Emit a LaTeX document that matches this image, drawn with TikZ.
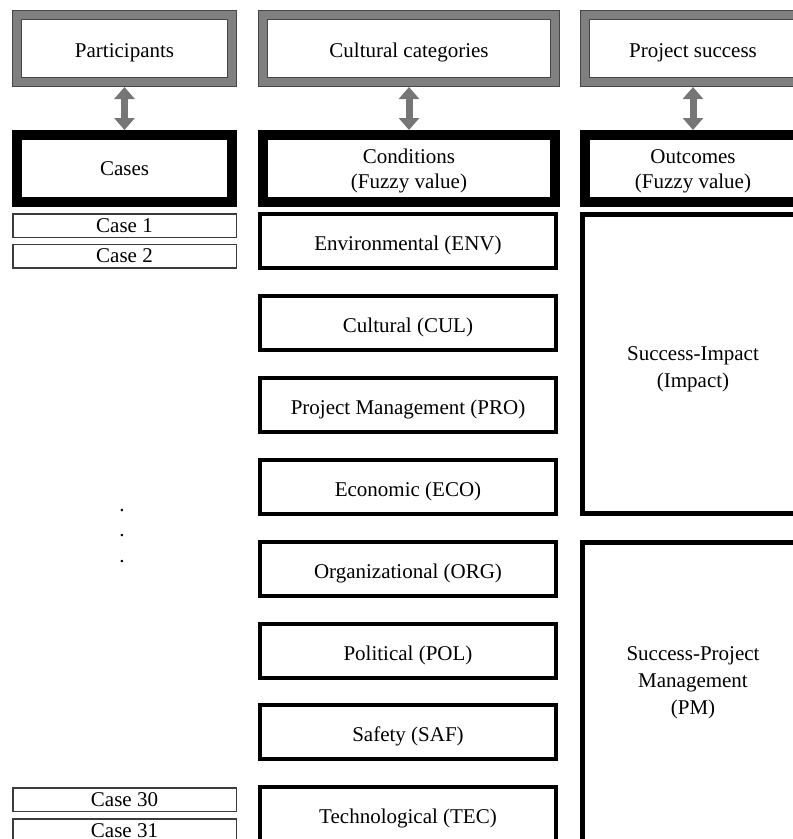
\documentclass[tikz,border=0pt]{standalone}
\usepackage{fontspec}
\setmainfont{Liberation Serif}
\usetikzlibrary{arrows.meta,positioning}

\definecolor{FrameGray}{RGB}{128,128,128}
\definecolor{EdgeGray}{RGB}{70,70,70}
\definecolor{LinkGray}{RGB}{118,118,118}
\definecolor{CaseGray}{RGB}{60,60,60}

\begin{document}
\begin{tikzpicture}[x=1pt,y=-1pt,
	Link/.style={{Triangle[width=20pt,length=12pt]}-{Triangle[width=20pt,length=12pt]},LinkGray,line width=7pt},
	Top/.style={rectangle,fill=white,draw=EdgeGray,double=FrameGray,double distance=8pt,line width=1pt,outer sep=5pt,minimum height=67pt,text height=21pt,text depth=3pt,font=\fontsize{21}{26}\selectfont},
	Head/.style={rectangle,fill=white,draw=black,line width=10pt,minimum height=67pt,align=center,font=\fontsize{21}{25}\selectfont},
	Cond/.style={rectangle,fill=white,draw=black,line width=4pt,minimum width=296pt,minimum height=54pt,text height=21pt,text depth=2pt,font=\fontsize{21}{26}\selectfont},
	Case/.style={rectangle,fill=white,draw=CaseGray,line width=1.5pt,minimum width=223.5pt,minimum height=23.5pt,inner sep=0pt,font=\fontsize{21}{26}\selectfont},
	Out/.style={rectangle,fill=white,draw=black,line width=5pt,minimum width=221pt,align=center,font=\fontsize{21}{27}\selectfont},
	Txt/.style={align=center,font=\fontsize{21}{27}\selectfont},
]
	\clip (0,0) rectangle (793,839);

	% top row
	\node[Top,minimum width=215pt] (part) at (124.5,48.5) {Participants};
	\node[Top,minimum width=292pt] (cat)[right of=part, node distance=284.5pt] {Cultural categories};
	\node[Top,minimum width=216pt] (succ)[right of=cat, node distance=284pt] {Project success};

	% headers
	\node[Head,minimum width=215pt] (cases)[below of=part, node distance=120pt] {Cases};
	\node[Head,minimum width=292pt,text height=45pt] (cond)[below of=cat, node distance=120pt] {Conditions\\(Fuzzy value)};
	\node[Head,minimum width=216pt,text height=45pt] (outc)[below of=succ, node distance=120pt] {Outcomes\\(Fuzzy value)};

	\path[Link]
	(part) edge (cases)
	(cat) edge (cond)
	(succ) edge (outc)
	;

	% cases
	\node[Case] (c1)[below of=cases, node distance=57pt] {Case 1};
	\node[Case] (c2)[below of=c1, node distance=30.5pt] {Case 2};
	\node[Txt,font=\fontsize{21}{25.5}\selectfont] (dots) at (122,536) {.\\.\\.};
	\node[Case] (c30) at (124.5,799.5) {Case 30};
	\node[Case] (c31)[below of=c30, node distance=31pt] {Case 31};

	% conditions
	\node[Cond] (env) at (408,241) {Environmental (ENV)};
	\node[Cond] (cul)[below of=env, node distance=81.9pt] {Cultural (CUL)};
	\node[Cond] (pro)[below of=cul, node distance=81.9pt] {Project Management (PRO)};
	\node[Cond] (eco)[below of=pro, node distance=81.9pt] {Economic (ECO)};
	\node[Cond] (org)[below of=eco, node distance=81.9pt] {Organizational (ORG)};
	\node[Cond] (pol)[below of=org, node distance=81.9pt] {Political (POL)};
	\node[Cond] (saf)[below of=pol, node distance=81.9pt] {Safety (SAF)};
	\node[Cond] (tec)[below of=saf, node distance=81.9pt] {Technological (TEC)};

	% outcomes
	\node[Out,minimum height=299pt,text height=51pt] (imp)[below of=outc, node distance=195.5pt] {Success-Impact\\(Impact)};
	\node[Out,minimum height=335pt] (pmbox)[below of=imp, node distance=346pt] {};
	\node[Txt] (pm) at (693,683) {Success-Project\\Management\\(PM)};
\end{tikzpicture}
\end{document}
